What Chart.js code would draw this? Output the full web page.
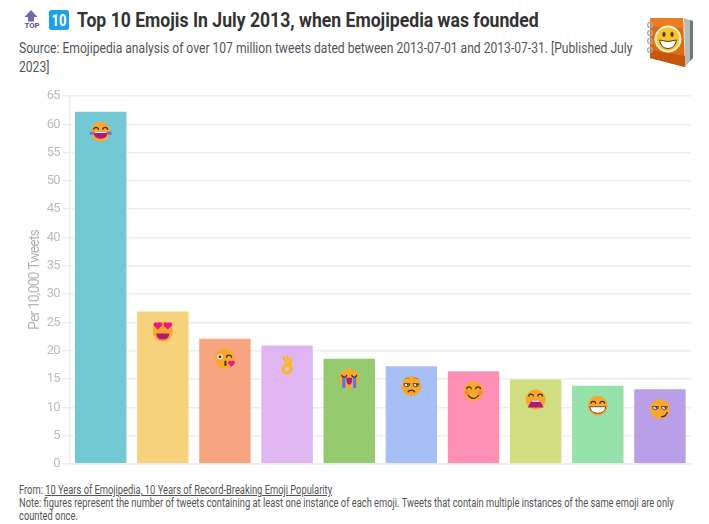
<!DOCTYPE html>
<html>
<head>
<meta charset="utf-8">
<script src="https://cdn.jsdelivr.net/npm/chart.js@4"></script>
<style>
  html, body { margin: 0; padding: 0; background: #fff; }
  body { width: 709px; height: 524px; position: relative; overflow: hidden; font-family: Roboto, sans-serif; color: #555; }
  #chart { position: absolute; left: 0; top: 84px; }
  .txt { position: absolute; white-space: nowrap; transform-origin: 0 0; }
  #title { left: 77px; top: 8px; font-size: 20px; font-weight: bold; color: #333; transform: scaleX(0.88); }
  #sub { left: 19px; top: 39px; width: 750px; white-space: normal; font-size: 14.5px; line-height: 19px; transform: scaleX(0.835); }
  #foot { left: 19px; top: 484px; font-size: 12px; line-height: 13px; transform: scaleX(0.778); }
  #foot u { text-underline-offset: 1px; }
  svg { position: absolute; }
</style>
</head>
<body>
<svg style="left:22px;top:8px" width="50" height="28" viewBox="0 0 50 28">
  <path d="M9 2 L15.5 9 H12 V13.5 H6 V9 H2.5 Z" fill="#7a63a8"/>
  <text x="10" y="20" font-size="8" font-weight="bold" text-anchor="middle" fill="#5b4f96" font-family="Roboto" textLength="15" lengthAdjust="spacingAndGlyphs">TOP</text>
  <rect x="27" y="2" width="20" height="20" rx="2.5" fill="#1da1ee"/>
  <text x="37" y="18" font-size="16" font-weight="bold" text-anchor="middle" fill="#fff" font-family="Roboto" textLength="15" lengthAdjust="spacingAndGlyphs">10</text>
</svg>
<div class="txt" id="title">Top 10 Emojis In July 2013, when Emojipedia was founded</div>
<div class="txt" id="sub">Source: Emojipedia analysis of over 107 million tweets dated between 2013-07-01 and 2013-07-31. [Published July 2023]</div>
<svg style="left:640px;top:8px" width="64" height="66" viewBox="0 0 64 66">
  <path d="M44 10 L53 13 L53 50 L45 59 Z" fill="#b9bdb8"/>
  <path d="M50 12 L53 13 L53 50 L50 53 Z" fill="#6f7a78"/>
  <path d="M10 10 L43 10 L45 59 L10 50 Z" fill="#dd6a14"/>
  <path d="M10 10 L43 10 L43.5 20 L10 18 Z" fill="#ea7d22"/>
  <path d="M10 42 L45 48 L45 59 L10 50 Z" fill="#c4560e"/>
  <circle cx="28" cy="31" r="12.5" fill="#f8c531" stroke="#fdf3cf" stroke-width="2"/>
  <ellipse cx="24" cy="26.5" rx="1.6" ry="2.4" fill="#4a3a20"/><ellipse cx="32" cy="26.5" rx="1.6" ry="2.4" fill="#4a3a20"/>
  <path d="M19.5 32 Q28 35 36.5 32 Q35 40.5 28 40.5 Q21 40.5 19.5 32 Z" fill="#fff" stroke="#5a3f20" stroke-width="1"/>
  <g fill="none" stroke="#a9adb0" stroke-width="1.4"><circle cx="10" cy="17" r="2.4"/><circle cx="10" cy="25" r="2.4"/><circle cx="10" cy="33" r="2.4"/><circle cx="10" cy="42" r="2.4"/></g>
</svg>
<canvas id="chart" width="709" height="392"></canvas>
<div class="txt" id="foot">From: <u>10 Years of Emojipedia, 10 Years of Record-Breaking Emoji Popularity</u><br>Note: figures represent the number of tweets containing at least one instance of each emoji. Tweets that contain multiple instances of the same emoji are only<br>counted once.</div>
<script>
const emojis = ["😂", "😍", "😘", "👌", "😭", "😒", "😊", "😩", "😁", "😏"];
const perTenThousand = [62.4, 27.1, 22.3, 21.1, 18.75, 17.45, 16.55, 15.1, 14.0, 13.4];
const barColors = ["#72c9d3", "#f6d27c", "#f7a480", "#dfb6f2", "#95ca6e", "#a6bff5", "#fd90b4", "#d0dd80", "#95e2ab", "#b89fe8"];
const emojiShapes = ["joy", "hearts", "kiss", "ok", "sob", "unamused", "smile", "weary", "grin", "smirk"];

const FACE = "#fba72c", DARK = "#3b3230", PINK = "#f0148c", MOUTH = "#b01a78", BLUE = "#4a7fe8";

function arc(ctx, x, y, r, from, to, color, w) {
    ctx.beginPath();
    ctx.arc(x, y, r, from, to);
    ctx.strokeStyle = color;
    ctx.lineWidth = w || 1.2;
    ctx.stroke();
}
function dot(ctx, x, y, r, color) {
    ctx.beginPath();
    ctx.arc(x, y, r, 0, Math.PI * 2);
    ctx.fillStyle = color;
    ctx.fill();
}
function heart(ctx, x, y, s) {
    dot(ctx, x - s / 2, y, s / 1.6, PINK);
    dot(ctx, x + s / 2, y, s / 1.6, PINK);
    ctx.beginPath();
    ctx.moveTo(x - s * 1.05, y + s * 0.25);
    ctx.lineTo(x + s * 1.05, y + s * 0.25);
    ctx.lineTo(x, y + s * 1.3);
    ctx.fillStyle = PINK;
    ctx.fill();
}
function openMouth(ctx, y, h, w) {
    ctx.beginPath();
    ctx.moveTo(-w, y);
    ctx.lineTo(w, y);
    ctx.quadraticCurveTo(w, y + h, 0, y + h);
    ctx.quadraticCurveTo(-w, y + h, -w, y);
    ctx.fillStyle = MOUTH;
    ctx.fill();
}
function happyEyes(ctx) {
    arc(ctx, -4.5, -2, 2.4, Math.PI, 0, DARK);
    arc(ctx, 4.5, -2, 2.4, Math.PI, 0, DARK);
}
function sleepyEyes(ctx, y) {
    [-4.5, 4.5].forEach((x) => {
        ctx.beginPath();
        ctx.arc(x, y, 3, 0, Math.PI);
        ctx.closePath();
        ctx.fillStyle = "#fff";
        ctx.fill();
        ctx.strokeStyle = DARK;
        ctx.lineWidth = 0.9;
        ctx.stroke();
        dot(ctx, x + 1, y + 1, 1, DARK);
    });
}

const painters = {
    joy(ctx) {
        happyEyes(ctx);
        openMouth(ctx, 0, 7, 7);
        ctx.fillStyle = "#fff";
        ctx.fillRect(-6, 0, 12, 1.2);
        ctx.fillStyle = BLUE;
        ctx.fillRect(-11, 0, 4, 3);
        ctx.fillRect(7, 0, 4, 3);
    },
    hearts(ctx) {
        openMouth(ctx, 2, 6, 6.5);
        heart(ctx, -5, -7, 3.8);
        heart(ctx, 5, -7, 3.8);
    },
    kiss(ctx) {
        dot(ctx, -5, -2, 2.6, "#fff");
        dot(ctx, -5, -2, 1.5, DARK);
        arc(ctx, 4, -1, 2.6, Math.PI, 0, DARK);
        ctx.fillStyle = DARK;
        ctx.fillRect(-0.5, 2, 2, 5);
        heart(ctx, 6.5, 4, 3);
    },
    ok(ctx) {
        arc(ctx, 0, 3.5, 4, 0, Math.PI * 2, "#fbb81e", 3);
        ctx.strokeStyle = "#fbb81e";
        ctx.lineWidth = 2.2;
        [[-4, -9], [0, -10], [4, -8]].forEach(([x, y]) => {
            ctx.beginPath();
            ctx.moveTo(x * 0.4 + 2, 0);
            ctx.lineTo(x, y);
            ctx.stroke();
        });
    },
    sob(ctx) {
        ctx.fillStyle = BLUE;
        ctx.fillRect(-7, -2, 3.2, 11);
        ctx.fillRect(3.8, -2, 3.2, 11);
        arc(ctx, -5, -4, 2.4, 0, Math.PI, DARK);
        arc(ctx, 5, -4, 2.4, 0, Math.PI, DARK);
        openMouth(ctx, -1, 7, 3);
    },
    unamused(ctx) {
        sleepyEyes(ctx, -2.5);
        arc(ctx, -4.5, -5, 3.2, Math.PI * 1.2, Math.PI * 1.8, "#b8741c", 0.9);
        arc(ctx, 4.5, -5, 3.2, Math.PI * 1.2, Math.PI * 1.8, "#b8741c", 0.9);
        arc(ctx, 0, 8, 4, Math.PI * 1.15, Math.PI * 1.85, DARK);
    },
    smile(ctx) {
        dot(ctx, -6.5, 1.5, 2.2, "#f87f5f");
        dot(ctx, 6.5, 1.5, 2.2, "#f87f5f");
        happyEyes(ctx);
        arc(ctx, 0, 1, 6, Math.PI * 0.15, Math.PI * 0.85, DARK);
    },
    weary(ctx) {
        arc(ctx, -4.5, -3, 2.4, Math.PI, 0, DARK);
        arc(ctx, 4.5, -3, 2.4, Math.PI, 0, DARK);
        ctx.beginPath();
        ctx.moveTo(-8, 8);
        ctx.lineTo(-4, 1);
        ctx.lineTo(4, 1);
        ctx.lineTo(8, 8);
        ctx.closePath();
        ctx.fillStyle = MOUTH;
        ctx.fill();
        ctx.fillStyle = "#fff";
        ctx.fillRect(-4, 1, 8, 1.3);
    },
    grin(ctx) {
        happyEyes(ctx);
        ctx.beginPath();
        ctx.moveTo(-8, 1);
        ctx.lineTo(8, 1);
        ctx.quadraticCurveTo(7, 7.5, 0, 7.5);
        ctx.quadraticCurveTo(-7, 7.5, -8, 1);
        ctx.fillStyle = "#fff";
        ctx.fill();
        ctx.strokeStyle = DARK;
        ctx.lineWidth = 0.8;
        ctx.stroke();
    },
    smirk(ctx) {
        sleepyEyes(ctx, -2.5);
        arc(ctx, 2, 2, 5.5, Math.PI * 0.05, Math.PI * 0.55, DARK, 1.4);
    }
};

// emojis are drawn on the bars, a fixed distance under each bar's top
const emojiPlugin = {
    id: "emojiFaces",
    beforeDraw(chart) {
        // narrow the tick text, there is no condensed font to hand
        chart.ctx.letterSpacing = "-0.9px";
    },
    afterDatasetsDraw(chart) {
        const ctx = chart.ctx;
        chart.getDatasetMeta(0).data.forEach((bar, i) => {
            const shape = emojiShapes[i];
            ctx.save();
            ctx.translate(bar.x, bar.y + 21);
            if (shape !== "ok") dot(ctx, 0, 0, 10, FACE);
            painters[shape](ctx);
            ctx.restore();
        });
    }
};

new Chart(document.getElementById("chart"), {
    type: "bar",
    data: {
        labels: emojis,
        datasets: [{
            data: perTenThousand,
            backgroundColor: barColors,
            borderColor: "rgba(255,255,255,0.45)",
            borderWidth: 1,
            barPercentage: 0.86,
            categoryPercentage: 1
        }]
    },
    options: {
        responsive: false,
        animation: false,
        layout: { padding: { top: 12, right: 18, bottom: 12, left: 27 } },
        plugins: { legend: { display: false }, tooltip: { enabled: false } },
        scales: {
            x: {
                grid: { display: false, drawTicks: false },
                border: { color: "#eeeeee", width: 1.5 },
                ticks: { display: false }
            },
            y: {
                min: 0,
                max: 65,
                afterFit(scale) { scale.width = 42.6; },
                ticks: {
                    stepSize: 5,
                    color: "#bdbdbd",
                    padding: 3,
                    font: { family: "Roboto", size: 13 }
                },
                grid: { color: "#eeeeee", lineWidth: 1.5, tickLength: 7 },
                border: { color: "#eeeeee", width: 1.5 },
                title: {
                    display: true,
                    text: "Per 10,000 Tweets",
                    color: "#b5b5b5",
                    padding: 0,
                    font: { family: "Roboto", size: 14 }
                }
            }
        }
    },
    plugins: [emojiPlugin]
});
</script>
</body>
</html>
